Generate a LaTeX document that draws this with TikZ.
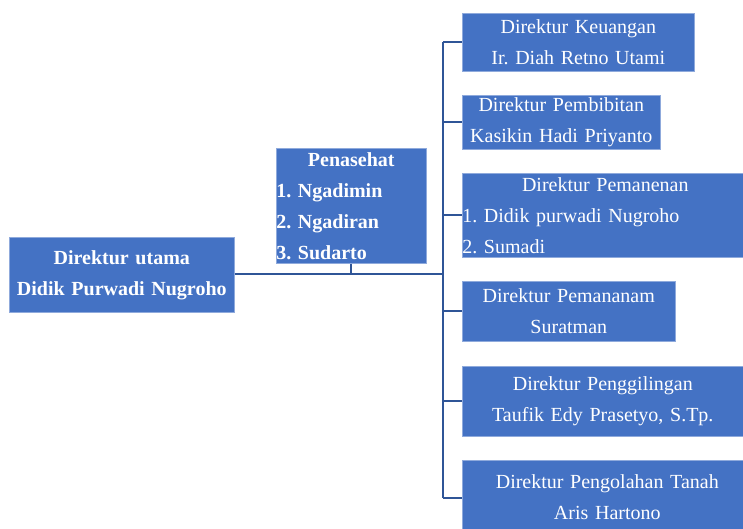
\documentclass[tikz,border=0pt]{standalone}
\usepackage{fontspec}
\setmainfont{Liberation Serif}
\usetikzlibrary{positioning}
\definecolor{boxfill}{HTML}{4472C4}
\definecolor{boxline}{HTML}{8FAADC}
\definecolor{linkline}{HTML}{2F5597}
\newcommand{\widespace}{\spaceskip=0.42em plus 0.1em minus 0.05em\relax}
\newcommand{\midline}[1]{\hspace*{\fill}#1\hspace*{\fill}\null}
\frenchspacing
\begin{document}
\begin{tikzpicture}[x=1pt, y=-1pt,
  box/.style={draw=boxline, line width=0.6pt, fill=boxfill, text=white, inner sep=0pt, anchor=north west, align=center,
    font=\fontsize{20}{31}\selectfont\widespace},
  boldbox/.style={box, font=\fontsize{20}{31}\selectfont\bfseries},
  link/.style={draw=linkline, line width=2pt}]
\clip (0,0) rectangle (743,529);
% kiri
\node[boldbox, text width=225pt, minimum height=75pt] (utama) at (9,237) {Direktur utama\\Didik Purwadi Nugroho};
\node[boldbox, text width=150pt, minimum height=115pt, align=left] (penasehat) at (276,148)
  {\midline{Penasehat}\\1. Ngadimin\\2. Ngadiran\\3. Sudarto};
% kanan
\node[box, text width=232pt, minimum height=58pt] (keuangan) at (462,13) {Direktur Keuangan\\Ir. Diah Retno Utami};
\node[box, text width=198pt, minimum height=54pt] (pembibitan) at (462,95) {Direktur Pembibitan\\Kasikin Hadi Priyanto};
\node[box, text width=286pt, minimum height=84pt, align=left] (pemanenan) at (462,173)
  {\midline{Direktur Pemanenan}\\1. Didik purwadi Nugroho\\2. Sumadi};
\node[box, text width=213pt, minimum height=60pt] (pemananam) at (462,281) {Direktur Pemananam\\Suratman};
\node[box, text width=281pt, minimum height=70pt] (penggilingan) at (462,366) {Direktur Penggilingan\\Taufik Edy Prasetyo, S.Tp.};
\node[box, text width=290pt, minimum height=74pt] (pengolahan) at (462,460) {Direktur Pengolahan Tanah\\Aris Hartono};
% garis
\coordinate (trunktop) at (443,42);
\coordinate (trunkbot) at (443,498);
\draw[link] (trunktop) -- (trunkbot);
\draw[link] (utama.east |- 0,274) -- (443,274);
\draw[link] (penasehat.south) -- (penasehat.south |- 0,274);
\foreach \n in {keuangan,pembibitan,pemanenan,pemananam,penggilingan}
  \draw[link] (trunktop |- \n.west) -- (\n.west);
\draw[link] (trunkbot) -- (trunkbot -| pengolahan.west);
\end{tikzpicture}
\end{document}
